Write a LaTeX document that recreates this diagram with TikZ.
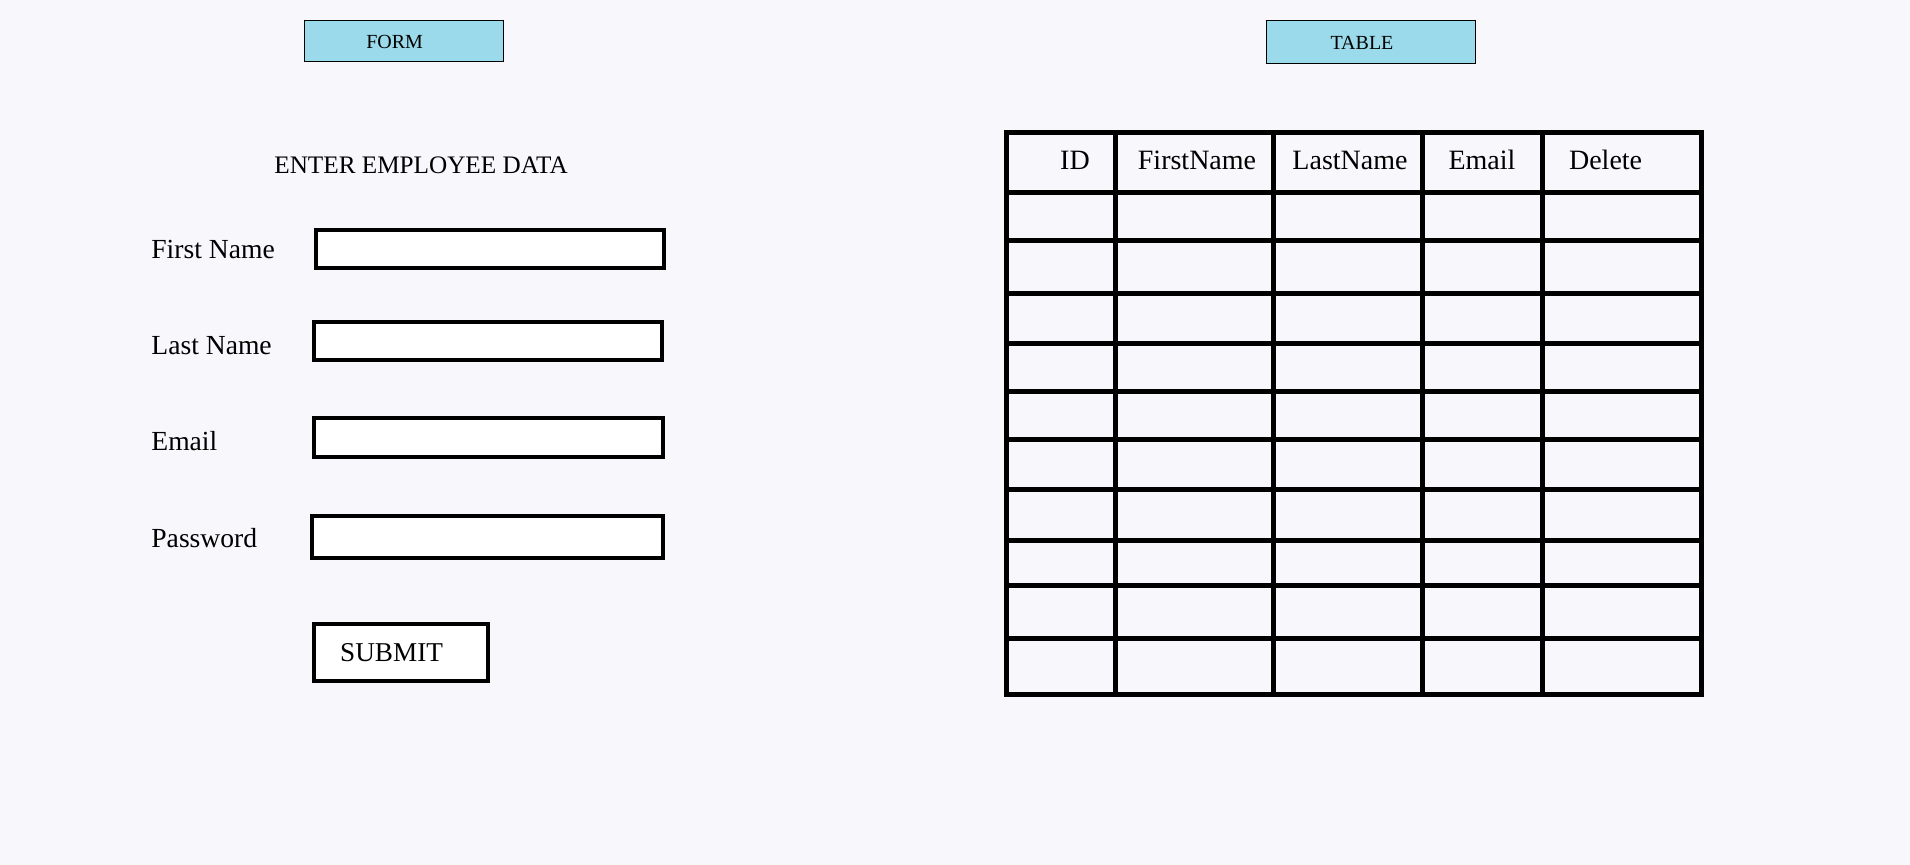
\documentclass[tikz,border=0pt]{standalone}
\usepackage{fontspec}
\setmainfont{Liberation Serif}
\definecolor{pagebg}{RGB}{247,247,252}
\definecolor{tabblue}{RGB}{155,218,234}
\begin{document}
\begin{tikzpicture}[x=0.5pt,y=-0.5pt,
  tab/.style={draw=black,line width=0.6pt,fill=tabblue,inner sep=0pt},
  tabtext/.style={anchor=base,inner sep=0pt,font=\fontsize{10}{12}\selectfont},
  field/.style={draw=black,line width=2pt,fill=white,inner sep=0pt},
  lbl/.style={anchor=base west,inner sep=0pt,font=\fontsize{13.8}{16}\selectfont},
  hdr/.style={anchor=base,inner sep=0pt,font=\fontsize{14}{16}\selectfont},
  grid/.style={line width=2.5pt,draw=black}]
\fill[pagebg] (0,0) rectangle (1910,865);
\useasboundingbox (0,0) rectangle (1910,865);
% tabs
\node[tab,minimum width=99.5pt,minimum height=20.5pt] (formtab) at (404,41.3) {};
\node[tabtext] (formtxt) at (394.6,49) {FORM};
\node[tab,minimum width=104.5pt,minimum height=21.5pt] (tabletab) at (1371.3,42) {};
\node[tabtext] (tabletxt) at (1362,49.3) {TABLE};
% form
\node[anchor=base west,inner sep=0pt,font=\fontsize{12.6}{15}\selectfont] (title) at (274,174) {ENTER EMPLOYEE DATA};
\node[lbl] (lfn) at (151,259) {First Name};
\node[lbl] (lln) at (151,355) {Last Name};
\node[lbl] (lem) at (151,451) {Email};
\node[lbl] (lpw) at (151,547) {Password};
\node[field,minimum width=173.8pt,minimum height=19pt] (ffn) at (489.8,249) {};
\node[field,minimum width=174pt,minimum height=19pt] (fln) at (488,341) {};
\node[field,minimum width=174.5pt,minimum height=19.3pt] (fem) at (488.5,437.4) {};
\node[field,minimum width=175.5pt,minimum height=20.8pt] (fpw) at (487.5,536.9) {};
\node[field,minimum width=87pt,minimum height=28.3pt] (submit) at (401,652.3) {};
\node[anchor=base,inner sep=0pt,font=\fontsize{13.6}{16}\selectfont] (subtxt) at (391.6,661) {SUBMIT};
% table
\foreach \y in {192.3,240.3,293.3,343.3,391.7,440,489.3,540.3,585.3,638.3}
  \draw[grid] (1006,\y) -- (1701.6,\y);
\foreach \x in {1115,1273.5,1422.7,1542.7}
  \draw[grid] (\x,132.3) -- (\x,694.3);
\draw[grid] (1006,132.3) rectangle (1701.6,694.3);
\node[hdr] (hid) at (1075,170) {ID};
\node[hdr] (hfn) at (1197,170) {FirstName};
\node[hdr] (hln) at (1350,170) {LastName};
\node[hdr] (hem) at (1482,170) {Email};
\node[hdr] (hdel) at (1605.6,170) {Delete};
\end{tikzpicture}
\end{document}
